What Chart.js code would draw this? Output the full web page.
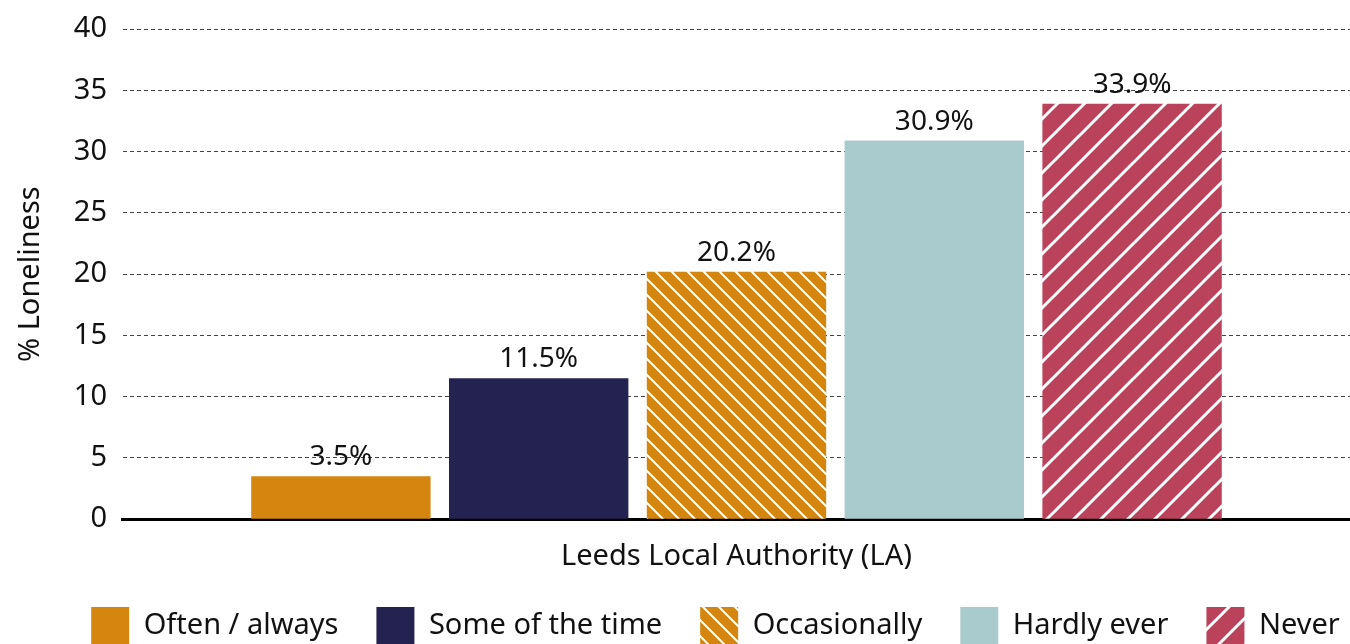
<!DOCTYPE html>
<html>
<head>
<meta charset="utf-8">
<script src="https://cdn.jsdelivr.net/npm/chart.js@4.4.1/dist/chart.umd.min.js"></script>
<style>
  html, body { margin: 0; padding: 0; background: #fff; overflow: hidden; }
  #wrap { width: 1350px; height: 655px; }
</style>
</head>
<body>
<div id="wrap"><canvas id="chart"></canvas></div>
<script>
'use strict';
const categories = ['Leeds Local Authority (LA)'];
const seriesNames = ['Often / always', 'Some of the time', 'Occasionally', 'Hardly ever', 'Never'];
const seriesValues = [3.5, 11.5, 20.2, 30.9, 33.9];
const yTicks = [0, 5, 10, 15, 20, 25, 30, 35, 40];

const FONT = '"Noto Sans", "Open Sans", sans-serif';

// diagonal hatch tile, dir 1 = "\" and -1 = "/"
function hatch(bg, size, width, dir) {
  const c = document.createElement('canvas');
  c.width = size; c.height = size;
  const g = c.getContext('2d');
  g.fillStyle = bg;
  g.fillRect(0, 0, size, size);
  g.strokeStyle = '#ffffff';
  g.lineWidth = width;
  g.beginPath();
  for (let k = -1; k <= 1; k++) {
    if (dir > 0) {
      g.moveTo(k * size - 1, -1);
      g.lineTo(k * size + size + 1, size + 1);
    } else {
      g.moveTo(k * size - 1, size + 1);
      g.lineTo(k * size + size + 1, -1);
    }
  }
  g.stroke();
  return g.createPattern(c, 'repeat');
}

const colors = [
  '#d4860f',
  '#232250',
  hatch('#d4860f', 16, 2, 1),
  '#a9cbce',
  hatch('#ba435b', 27, 3, -1)
];

const valueLabels = {
  id: 'valueLabels',
  afterDatasetsDraw(chart) {
    const ctx = chart.ctx;
    ctx.save();
    ctx.font = '28px ' + FONT;
    ctx.fillStyle = '#111';
    ctx.textAlign = 'center';
    ctx.textBaseline = 'alphabetic';
    chart.data.datasets.forEach((ds, i) => {
      const bar = chart.getDatasetMeta(i).data[0];
      ctx.fillText(ds.data[0].toFixed(1) + '%', bar.x, bar.y - 11);
    });
    ctx.restore();
  }
};

// nudge the legend a bit to the right, as in the original
const legendShift = {
  id: 'legendShift',
  afterLayout(chart) {
    if (chart.legend) {
      chart.legend.left += 34;
      chart.legend.right += 34;
    }
  }
};

new Chart(document.getElementById('chart').getContext('2d'), {
  type: 'bar',
  data: {
    labels: categories,
    datasets: seriesNames.map((name, i) => ({
      label: name,
      data: [seriesValues[i]],
      backgroundColor: colors[i],
      borderWidth: 0,
      categoryPercentage: 0.806,
      barPercentage: 0.907
    }))
  },
  options: {
    responsive: true,
    maintainAspectRatio: false,
    animation: false,
    layout: { padding: { top: 0, right: 0, left: 13, bottom: 0 } },
    plugins: {
      tooltip: { enabled: false },
      legend: {
        position: 'bottom',
        labels: {
          font: { family: FONT, size: 29 },
          color: '#111',
          boxWidth: 38,
          boxHeight: 38,
          padding: 38
        }
      }
    },
    scales: {
      x: {
        grid: { display: false },
        border: { display: true, color: '#000', width: 3 },
        ticks: { font: { family: FONT, size: 29 }, color: '#111', padding: 12 },
        afterFit(axis) { axis.height -= 17; }
      },
      y: {
        min: 0,
        max: 40,
        afterBuildTicks(axis) { axis.ticks = yTicks.map(v => ({ value: v })); },
        grid: { color: '#444', lineWidth: 1, drawTicks: false },
        border: { display: false, dash: [4, 3] },
        ticks: { font: { family: FONT, size: 29, lineHeight: 0.9 }, color: '#111', padding: 16 },
        title: { display: true, text: '% Loneliness', font: { family: FONT, size: 29 }, color: '#111', padding: { top: 0, bottom: 10 } }
      }
    }
  },
  plugins: [valueLabels, legendShift]
});
</script>
</body>
</html>
